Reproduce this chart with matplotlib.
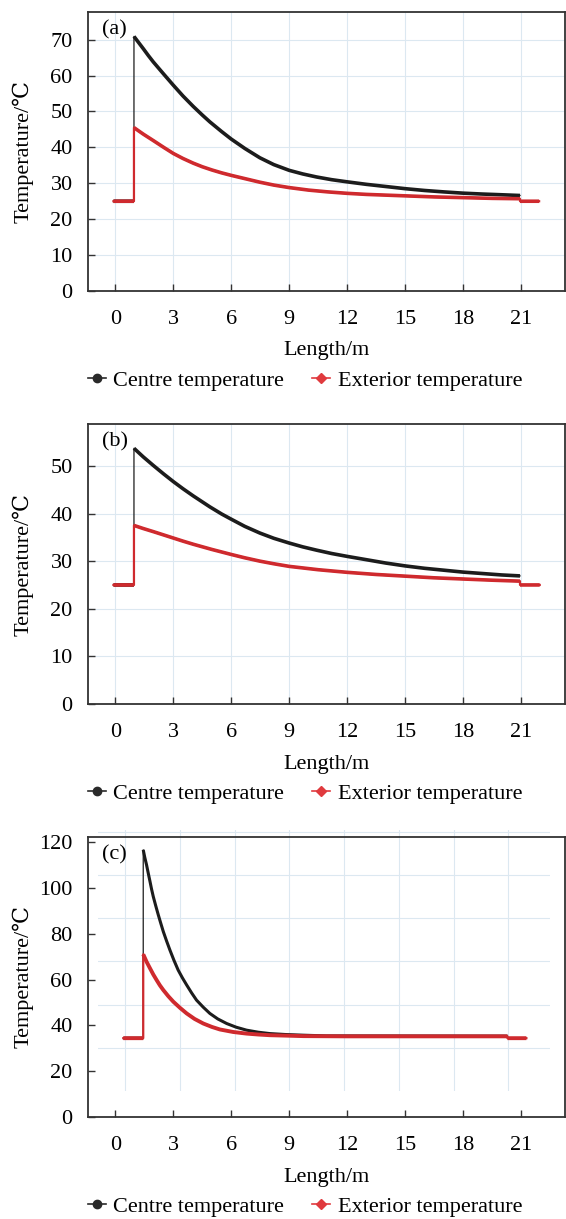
import numpy as np
import matplotlib
matplotlib.use("Agg")
import matplotlib.pyplot as plt
from matplotlib.lines import Line2D

plt.rcParams['font.family'] = ['Liberation Serif', 'DejaVu Serif']
plt.rcParams['font.size'] = 16

x_ticks = [0, 3, 6, 9, 12, 15, 18, 21]
x_label = "Length/m"
y_label = "Temperature/\u2103"
series_names = ["Centre temperature", "Exterior temperature"]
panel_labels = ["(a)", "(b)", "(c)"]

# ---- panel (a)
a_centre_x = [-0.1, 0.96, 0.96, 1.2, 1.44, 1.7, 1.96, 2.5, 3.0, 3.5, 4.03, 4.5, 4.89, 5.5, 6.0, 6.7,
              7.48, 8.2, 9.0, 9.7, 10.42, 11.2, 12.0, 13.0, 14.0, 15.0, 16.0, 17.0, 18.0, 19.0, 20.0, 20.95]
a_centre_y = [25.0, 25.0, 70.9, 69.2, 67.5, 65.6, 63.8, 60.4, 57.3, 54.3, 51.4, 49.0, 47.1, 44.4, 42.3, 39.7,
              37.1, 35.2, 33.6, 32.6, 31.75, 31.0, 30.4, 29.7, 29.1, 28.5, 28.0, 27.6, 27.25, 27.0, 26.8, 26.6]
a_ext_x = [-0.1, 0.96, 0.96, 1.44, 1.96, 2.5, 3.0, 3.5, 4.03, 4.5, 5.0, 5.5, 6.0, 6.7, 7.48, 8.2, 9.0,
           10.0, 11.0, 12.0, 13.0, 14.0, 15.0, 16.5, 18.0, 19.5, 20.95, 20.95, 21.94]
a_ext_y = [25.0, 25.0, 45.5, 43.7, 41.9, 40.0, 38.3, 36.9, 35.6, 34.6, 33.7, 32.9, 32.2, 31.3, 30.3, 29.5, 28.8,
           28.1, 27.6, 27.2, 26.9, 26.7, 26.5, 26.2, 26.0, 25.8, 25.7, 25.0, 25.0]
a_yticks = [0, 10, 20, 30, 40, 50, 60, 70]

# ---- panel (b)
b_centre_x = [-0.1, 0.96, 0.96, 1.44, 1.96, 2.5, 3.0, 3.5, 4.03, 4.89, 5.5, 6.0, 6.7, 7.48, 8.2, 9.0, 9.7,
              10.42, 11.2, 12.0, 13.0, 14.0, 15.0, 16.0, 17.0, 18.0, 19.0, 20.0, 20.95]
b_centre_y = [25.0, 25.0, 53.7, 51.9, 50.1, 48.3, 46.7, 45.2, 43.7, 41.4, 39.9, 38.8, 37.3, 35.9, 34.8, 33.8, 33.0,
              32.3, 31.6, 31.0, 30.3, 29.6, 29.0, 28.5, 28.1, 27.7, 27.4, 27.1, 26.9]
b_ext_x = [-0.1, 0.96, 0.96, 1.44, 1.96, 2.5, 3.0, 3.5, 4.03, 5.0, 6.0, 6.7, 7.48, 8.2, 9.0, 10.5, 12.0,
           13.5, 15.0, 16.5, 18.0, 19.5, 20.95, 20.95, 21.97]
b_ext_y = [25.0, 25.0, 37.5, 36.85, 36.2, 35.5, 34.85, 34.2, 33.55, 32.45, 31.4, 30.7, 30.0, 29.45, 28.9, 28.2, 27.65,
           27.2, 26.85, 26.5, 26.25, 26.0, 25.8, 25.0, 25.0]
b_yticks = [0, 10, 20, 30, 40, 50]

# ---- panel (c)
c_centre_x = [0.41, 1.44, 1.44, 1.52, 1.61, 1.7, 1.79, 1.87, 1.96, 2.09, 2.22, 2.35, 2.48, 2.65, 2.82, 3.03,
              3.25, 3.47, 3.69, 3.95, 4.2, 4.55, 4.89, 5.3, 5.76, 6.25, 6.79, 7.4, 8.0, 8.8, 9.73, 10.9, 20.3]
c_centre_y = [34.4, 34.4, 116.6, 113.3, 110.1, 106.4, 102.8, 99.5, 96.2, 92.1, 88.2, 84.5, 80.9, 76.8, 72.9, 68.4,
              64.1, 60.7, 57.6, 54.1, 51.0, 47.9, 45.2, 42.8, 40.8, 39.2, 37.9, 37.0, 36.4, 36.0, 35.7, 35.4, 35.3]
c_ext_x = [0.41, 1.44, 1.44, 1.61, 1.79, 1.96, 2.13, 2.3, 2.48, 2.74, 3.0, 3.35, 3.69, 4.1, 4.55, 5.0, 5.41,
           6.1, 6.79, 7.4, 8.0, 8.9, 9.73, 12.0, 20.3, 20.3, 21.28]
c_ext_y = [34.4, 34.4, 71.0, 67.8, 64.9, 62.2, 59.8, 57.5, 55.4, 52.7, 50.3, 47.6, 45.2, 42.8, 40.8, 39.3, 38.2,
           37.1, 36.4, 36.0, 35.7, 35.5, 35.3, 35.2, 35.2, 34.4, 34.4]
c_yticks = [0, 20, 40, 60, 80, 100, 120]

BLACK = '#1c1c1c'
RED = '#cf2a2e'
GRID = '#dce8f1'
SPINE = '#333333'

fig = plt.figure(figsize=(5.66, 12.19), dpi=100)

W, H = 566.0, 1219.0
def rect(left, right, top, bottom):
    return [left / W, 1 - bottom / H, (right - left) / W, (bottom - top) / H]

def draw(ax, x, y, color, thin_lw, thick_lw):
    x = np.asarray(x, float)
    y = np.asarray(y, float)
    ax.plot(x, y, color=color, lw=thin_lw, zorder=3)
    jumps = np.where(np.diff(x) == 0)[0] + 1
    xs = np.insert(x, jumps, np.nan)
    ys = np.insert(y, jumps, np.nan)
    ax.plot(xs, ys, color=color, lw=thick_lw, solid_capstyle='butt',
            solid_joinstyle='round', zorder=3)

def style(ax, yticks, ylim, label, grid=True):
    ax.set_xlim(-1.42, 23.28)
    ax.set_ylim(*ylim)
    ax.set_xticks(x_ticks)
    ax.set_yticks(yticks)
    ax.tick_params(direction='in', length=5, width=1.0, color=SPINE, labelsize=16)
    ax.tick_params(axis='x', pad=13.5)
    ax.tick_params(axis='y', pad=11)
    for s in ax.spines.values():
        s.set_color(SPINE)
        s.set_linewidth(1.3)
    if grid:
        ax.grid(True, color=GRID, lw=0.8)
        ax.set_axisbelow(True)
    ax.set_xlabel(x_label, fontsize=16)
    ax.xaxis.set_label_coords(0.5, -0.181)
    ax.set_ylabel(y_label, fontsize=16)
    ax.yaxis.set_label_coords(-0.115, 0.5)
    ax.text(0.029, 0.936, label, transform=ax.transAxes, ha='left', va='center', fontsize=16)
    handles = [Line2D([], [], color='#2a2a2a', marker='o', ms=6, lw=1.2),
               Line2D([], [], color='#e03a3e', marker='D', ms=5, lw=1.2)]
    ax.legend(handles, series_names, loc='center', bbox_to_anchor=(0.455, -0.32),
              ncol=2, frameon=False, fontsize=16, handlelength=0.8,
              handletextpad=0.35, columnspacing=1.25, borderaxespad=0, borderpad=0)

# (a)
ax_a = fig.add_axes(rect(88, 565, 12, 291))
draw(ax_a, a_centre_x, a_centre_y, BLACK, 0.9, 2.6)
draw(ax_a, a_ext_x, a_ext_y, RED, 1.6, 2.6)
style(ax_a, a_yticks, (0, 77.7), panel_labels[0])

# (b)
ax_b = fig.add_axes(rect(88, 565, 424, 704))
draw(ax_b, b_centre_x, b_centre_y, BLACK, 0.9, 2.6)
draw(ax_b, b_ext_x, b_ext_y, RED, 1.6, 2.6)
style(ax_b, b_yticks, (0, 58.8), panel_labels[1])

# (c) with an embedded, slightly offset grid
c_rect = rect(88, 565, 837, 1117)
ax_c = fig.add_axes(c_rect)
ax_c.set_zorder(2)
ax_c.patch.set_alpha(0)
l, b, w, h = c_rect
ax_g = fig.add_axes([l + 0.0217 * w, b + 0.093 * h, 0.947 * w, 0.933 * h])
ax_g.set_zorder(1)
ax_g.set_xlim(-1.46, 23.29)
ax_g.set_ylim(0, 121)
ax_g.set_xticks(x_ticks)
ax_g.set_yticks([20, 40, 60, 80, 100, 120])
ax_g.tick_params(length=0, labelbottom=False, labelleft=False)
ax_g.grid(True, color=GRID, lw=0.8)
for s in ax_g.spines.values():
    s.set_visible(False)
draw(ax_c, c_centre_x, c_centre_y, BLACK, 0.9, 2.2)
draw(ax_c, c_ext_x, c_ext_y, RED, 1.6, 2.8)
style(ax_c, c_yticks, (0, 122.2), panel_labels[2], grid=False)

fig.savefig("out.png", dpi=100)
